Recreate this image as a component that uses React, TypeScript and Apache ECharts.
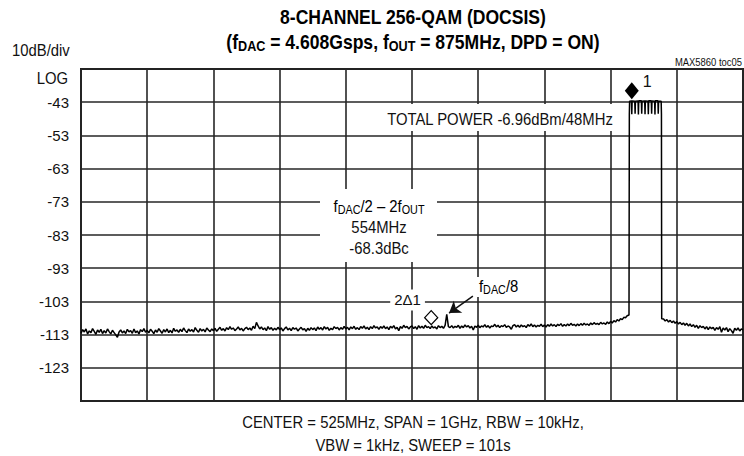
import React, { useEffect, useRef } from 'react';
import * as echarts from 'echarts';

// ---- axis definition ----
const START_MHZ = 25; // CENTER 525MHz, SPAN 1GHz
const SPAN_MHZ = 1000;
const DIV_MHZ = 100;
const REF_TOP_DB = -33; // top graticule line
const DB_PER_DIV = 10;
const Y_DIVS = 10;

// ---- trace: low-frequency noise floor, 25..850 MHz every 2.5 MHz ----
const noiseStepMHz = 2.5;
const noiseLowStartMHz = 25;
const noiseLowDbm = [
  -112.6, -111.5, -112.2, -111.3, -112.8, -111.9, -112.4, -111.2, -112.0, -112.9, -111.6, -112.3, -111.4, -112.7, -111.8, -112.5, -111.3, -112.1, -112.8, -111.7,
  -112.4, -113.1, -113.8, -112.2, -111.6, -112.5, -111.9, -112.7, -111.4, -112.2, -111.8, -112.6, -111.3, -112.4, -111.9, -112.8, -111.5, -112.1, -111.2, -112.3,
  -111.7, -112.5, -111.4, -112.0, -112.7, -111.6, -112.3, -111.2, -111.9, -112.6, -111.5, -112.2, -111.3, -112.4, -111.7, -112.5, -111.1, -112.0, -111.6, -112.3,
  -111.4, -112.1, -111.0, -111.8, -112.4, -111.3, -112.0, -111.5, -112.2, -110.9, -111.7, -112.3, -111.2, -111.9, -111.4, -112.2, -111.0, -111.6, -112.1, -111.3,
  -111.8, -111.1, -112.0, -111.4, -110.8, -111.7, -111.2, -111.9, -110.9, -111.5, -110.6, -111.4, -111.0, -111.8, -111.3, -110.7, -111.6, -111.1, -111.9, -111.2,
  -110.8, -111.5, -111.0, -111.7, -110.5, -111.2, -109.3, -110.4, -111.3, -110.7, -111.5, -111.0, -111.8, -110.6, -111.4, -110.9, -111.7, -111.1, -111.6, -110.8,
  -111.5, -111.0, -111.9, -111.2, -110.7, -111.6, -111.1, -111.8, -110.9, -111.4, -111.0, -111.9, -111.3, -110.8, -111.6, -111.2, -112.0, -111.1, -111.7, -110.9,
  -111.5, -111.0, -111.8, -110.7, -111.4, -110.9, -111.6, -110.6, -111.3, -110.8, -111.7, -111.1, -111.5, -110.6, -111.2, -110.8, -111.6, -110.9, -111.4, -110.5,
  -111.3, -110.8, -111.6, -110.7, -111.2, -110.5, -111.4, -110.9, -111.5, -110.6, -111.1, -110.4, -111.3, -110.8, -111.5, -110.6, -111.2, -110.3, -111.0, -110.7,
  -111.4, -110.6, -111.1, -110.4, -111.2, -110.7, -111.5, -110.5, -111.0, -110.3, -111.3, -110.8, -111.8, -110.6, -111.1, -110.2, -110.9, -110.5, -111.3, -110.7,
  -110.4, -111.2, -110.6, -111.4, -110.3, -111.0, -110.5, -111.1, -110.2, -110.9, -110.6, -111.2, -110.4, -111.0, -110.7, -111.3, -110.3, -110.9, -110.5, -111.1,
  -110.2, -106.9, -110.6, -110.9, -110.3, -111.0, -110.5, -110.8, -110.2, -111.1, -110.4, -110.9, -110.1, -110.7, -110.3, -111.0, -110.5, -111.6, -110.4, -110.8,
  -110.2, -110.9, -110.4, -110.7, -110.0, -110.8, -110.3, -111.0, -110.4, -110.6, -109.9, -110.7, -110.2, -110.9, -110.3, -110.6, -110.0, -110.8, -110.4, -110.7,
  -111.4, -110.3, -110.0, -110.7, -110.2, -110.8, -110.1, -110.6, -110.3, -110.9, -110.0, -110.5, -109.8, -110.6, -110.1, -110.7, -110.2, -110.5, -109.9, -110.6,
  -110.1, -110.7, -110.0, -110.5, -109.8, -110.4, -110.0, -110.6, -109.9, -110.3, -109.7, -110.5, -110.0, -110.4, -109.8, -110.3, -109.6, -110.2, -109.9, -110.4,
  -109.8, -110.3, -109.7, -110.2, -109.6, -110.1, -109.8, -110.2, -109.5, -110.0, -109.4, -109.9, -109.6, -110.0, -109.3, -109.8, -109.5, -109.9, -109.2, -109.7,
  -109.0, -109.5, -108.8, -109.2, -108.5, -108.9, -108.2, -108.5, -107.8, -107.9, -107.3,
];

// ---- trace: 8-channel carrier block (flat top with narrow dips) ----
const carrierFreqMHz = [
  852.8, 853.3, 853.7,
  856.5, 857.0, 857.5,
  861.5, 862.0, 862.5,
  866.5, 867.0, 867.5,
  871.5, 872.0, 872.5,
  876.5, 877.0, 877.5,
  881.5, 882.0, 882.5,
  886.5, 887.0, 887.5,
  891.5, 892.0, 892.5,
  896.5, 897.0, 897.5,
  901.4, 901.8, 902.2,
];
const carrierDbm = [
  -107.1, -46.6, -42.7,
  -42.6, -46.6, -42.6,
  -42.7, -46.5, -42.7,
  -42.6, -46.7, -42.6,
  -42.6, -46.5, -42.7,
  -42.6, -46.6, -42.6,
  -42.7, -46.6, -42.6,
  -42.6, -46.5, -42.6,
  -42.7, -46.7, -42.6,
  -42.6, -46.5, -42.7,
  -42.7, -46.6, -108.2,
];

// ---- trace: high-frequency noise floor, 905..1025 MHz every 2.5 MHz ----
const noiseHighStartMHz = 905;
const noiseHighDbm = [
  -108.3, -108.9, -108.5, -109.2, -108.7, -109.4, -108.9, -109.6, -109.1, -109.8,
  -109.3, -110.0, -109.5, -110.2, -109.6, -110.4, -109.8, -110.6, -110.0, -110.8, -110.2, -111.1, -110.3, -110.9, -110.5, -111.3, -110.6, -111.5, -110.7, -111.2,
  -110.8, -111.7, -110.9, -111.4, -110.6, -112.3, -111.0, -111.6, -110.9, -112.1, -111.2, -111.8, -112.6, -111.1, -111.7, -111.0, -111.9, -111.3, -111.6,
];

// ---- markers ----
const marker1 = { freq: 857, dbm: -42.6 };
const marker2 = { freq: 554, dbm: -110.9 };
const spurArrow = { fromFreq: 617, fromDbm: -101.4, toFreq: 581, toDbm: -106.5 };

const FONT = "'Liberation Sans', Arial, Helvetica, sans-serif";
const SX = 0.9; // condensed look of the original lettering
const Y_SHIFT = -30 - REF_TOP_DB; // make axis min a multiple of interval

const toAxis = (f: number, v: number) => [f - START_MHZ, v + Y_SHIFT];

export default function App() {
  const ref = useRef<HTMLDivElement>(null);
  useEffect(() => {
    if (!ref.current) return;
    const chart = echarts.init(ref.current, undefined, { renderer: 'svg' });

    const trace: number[][] = [];
    noiseLowDbm.forEach((v, i) => trace.push(toAxis(noiseLowStartMHz + i * noiseStepMHz, v)));
    carrierFreqMHz.forEach((f, i) => trace.push(toAxis(f, carrierDbm[i])));
    noiseHighDbm.forEach((v, i) => trace.push(toAxis(noiseHighStartMHz + i * noiseStepMHz, v)));

    const yMax = REF_TOP_DB + Y_SHIFT;
    const yMin = yMax - Y_DIVS * DB_PER_DIV;

    const txt = (text: string, x: number, y: number, size: number, align = 'center', sx = SX) => ({
      type: 'text',
      x,
      y,
      z: 110,
      scaleX: sx,
      style: {
        text,
        font: `${size}px ${FONT}`,
        fontFamily: FONT,
        fontSize: size,
        fill: '#111',
        align,
        textAlign: align,
        verticalAlign: 'middle',
        textVerticalAlign: 'middle',
      },
    });
    const richTxt = (text: string, x: number, y: number, rich: any, align = 'center') => ({
      type: 'text',
      x,
      y,
      z: 110,
      scaleX: SX,
      style: {
        text,
        rich,
        align,
        textAlign: align,
        verticalAlign: 'middle',
        textVerticalAlign: 'middle',
      },
    });
    const whiteRect = (x: number, y: number, w: number, h: number) => ({
      type: 'rect',
      z: 105,
      shape: { x, y, width: w, height: h },
      style: { fill: '#fff' },
    });
    const subRich = (size: number, sub: number, bold = false) => ({
      n: { fontSize: size, fontFamily: FONT, fontWeight: bold ? 'bold' : 'normal', color: '#111', lineHeight: size + 4, verticalAlign: 'middle' },
      s: { fontSize: sub, fontFamily: FONT, fontWeight: bold ? 'bold' : 'normal', color: '#111', lineHeight: sub + 1, verticalAlign: 'bottom' },
    });

    chart.setOption({
      animation: false,
      backgroundColor: '#fff',
      grid: {
        left: 81,
        right: 1,
        top: 69,
        bottom: 55,
        show: true,
        borderColor: '#1e1e1e',
        borderWidth: 2,
      },
      xAxis: {
        type: 'value',
        min: 0,
        max: SPAN_MHZ,
        interval: DIV_MHZ,
        axisLabel: { show: false },
        axisTick: { show: false },
        axisLine: { show: false },
        splitLine: { show: true, lineStyle: { color: '#262626', width: 1.6 } },
      },
      yAxis: {
        type: 'value',
        min: yMin,
        max: yMax,
        interval: DB_PER_DIV,
        axisLabel: {
          formatter: (v: number) => (v === yMax || v === yMin ? '' : String(v - Y_SHIFT)),
          color: '#111',
          fontSize: 15,
          fontFamily: FONT,
          margin: 12,
        },
        axisTick: { show: false },
        axisLine: { show: false },
        splitLine: { show: true, lineStyle: { color: '#262626', width: 1.6 } },
      },
      series: [
        {
          type: 'line',
          data: trace,
          showSymbol: false,
          symbol: 'none',
          lineStyle: { color: '#000', width: 1.5 },
          z: 5,
          markLine: {
            silent: true,
            symbol: ['none', 'arrow'],
            symbolSize: 11,
            label: { show: false },
            lineStyle: { color: '#111', width: 1.5, type: 'solid' },
            data: [
              [
                { coord: toAxis(spurArrow.fromFreq, spurArrow.fromDbm) },
                { coord: toAxis(spurArrow.toFreq, spurArrow.toDbm) },
              ],
            ],
          },
        },
        {
          type: 'scatter',
          z: 20,
          itemStyle: { opacity: 1 },
          data: [
            {
              value: toAxis(marker1.freq, marker1.dbm),
              symbol: 'diamond',
              symbolSize: [14, 17],
              symbolOffset: [0, -10],
              itemStyle: { color: '#000', opacity: 1 },
              label: {
                show: true,
                formatter: '1',
                position: [22.5, -0.5],
                align: 'center',
                verticalAlign: 'middle',
                color: '#111',
                opacity: 1,
                textBorderWidth: 0,
                fontSize: 16,
                fontFamily: FONT,
              },
            },
            {
              value: toAxis(marker2.freq, marker2.dbm),
              symbol: 'diamond',
              symbolSize: [13, 14],
              symbolOffset: [0, -10],
              itemStyle: { color: '#fff', borderColor: '#000', borderWidth: 1.3, opacity: 1 },
              label: {
                show: true,
                formatter: '2Δ1',
                position: [-16.5, -10],
                align: 'center',
                verticalAlign: 'middle',
                color: '#111',
                opacity: 1,
                textBorderWidth: 0,
                fontSize: 15,
                fontFamily: FONT,
                backgroundColor: '#fff',
                padding: [3, 4],
              },
            },
          ],
        },
      ],
      graphic: [
        // title
        richTxt('{n|8-CHANNEL 256-QAM (DOCSIS)}', 413, 17, subRich(19.5, 14, true)),
        richTxt('{n|(f}{s|DAC}{n| = 4.608Gsps, f}{s|OUT}{n| = 875MHz, DPD = ON)}', 413, 42, subRich(19.5, 14, true)),
        txt('10dB/div', 12, 50, 16.5, 'left'),
        txt('LOG', 68, 78, 16.5, 'right'),
        txt('MAX5860 toc05', 742, 62, 10.5, 'right'),
        // total power
        whiteRect(379, 104, 246, 27),
        txt('TOTAL POWER -6.96dBm/48MHz', 500, 119, 16.5),
        // spur annotation block
        whiteRect(320, 189, 117, 73),
        richTxt('{n|f}{s|DAC}{n|/2 – 2f}{s|OUT}', 379, 206, subRich(16.5, 12)),
        txt('554MHz', 379, 227, 16.5),
        txt('-68.3dBc', 379, 248, 16.5),
        // fDAC/8 label
        whiteRect(476, 277, 56, 20),
        richTxt('{n|f}{s|DAC}{n|/8}', 479, 286, subRich(16.5, 12), 'left'),
        // footer
        txt('CENTER = 525MHz, SPAN = 1GHz, RBW = 10kHz,', 413, 422, 16.5),
        txt('VBW = 1kHz, SWEEP = 101s', 413, 445, 16.5),
      ],
    });
    return () => chart.dispose();
  }, []);
  return (
    <div
      ref={ref}
      style={{ position: 'fixed', left: 0, top: 0, width: 744, height: 456, background: '#fff' }}
    />
  );
}
